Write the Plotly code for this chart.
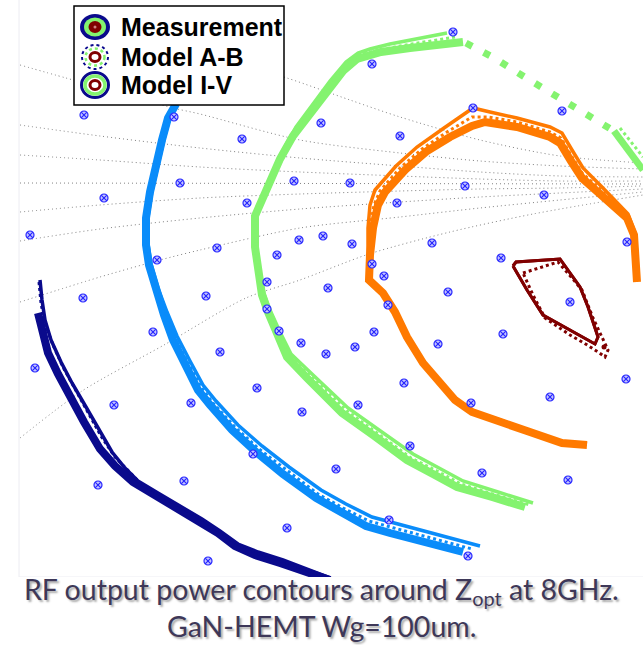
import plotly.graph_objects as go

# ---------------- data (pixel-like chart units) ----------------
# Smith-chart sample impedance points (blue ⊗ markers)
pts_x = [453,372,84,174,473,562,321,242,400,180,294,350,465,544,104,247,397,30,299,323,352,432,217,277,
         157,372,501,627,384,328,448,267,83,206,388,570,267,279,153,374,301,355,326,438,503,220,35,257,
         404,626,114,191,302,358,471,550,410,253,336,482,568,98,184,389,287,468,208]
pts_y = [32,64,115,117,108,111,123,139,136,183,181,183,186,195,198,203,203,235,240,236,244,243,248,255,
         260,264,258,242,276,288,292,282,298,296,305,302,309,331,332,332,343,347,354,344,334,352,368,388,
         383,379,405,403,412,405,403,397,446,454,469,473,480,485,481,520,528,556,561]

# Smith-chart grid arcs (gray dotted)
grid1_x = [75,150,220,287,350,400,480,560,643];        grid1_y = [8,35,58,78,100,117,140,156,163]
grid2_x = [20,66,120,173,200,300,400,480,560,643];     grid2_y = [65,78,93,108,114,140,153,161,166,169]
grid3_x = [20,100,200,300,400,480,560,643];            grid3_y = [125,136,148,158,166,172,176,177]
grid4_x = [20,100,200,300,400,480,560,643];            grid4_y = [155,160,167,172,176,179,181,181]
grid5_x = [20,643];                                    grid5_y = [183,184]
grid6_x = [20,100,200,300,400,480,560,643];            grid6_y = [212,205,198,194,191,189,188,186]
grid7_x = [20,100,200,300,400,480,560,643];            grid7_y = [241,229,218,209,202,197,193,189]
grid8_x = [20,100,160,200,300,400,480,560,643];        grid8_y = [302,277,260,250,228,217,208,200,192]
grid9_x = [20,82,164,246,300,369,450,533,643];         grid9_y = [438,391,345,298,280,254,232,214,195]

# Contour 1 (navy)
navy_meas_x = [38,42,48,58,70,84,100,115,133,155,178,200,218,235,255,280,330]
navy_meas_y = [313,333,353,374,397,422,449,466,482,495,508,521,533,546,555,563,580]
navy_iv_x = [40,42,45,51,61,72,86,99,112,125,138,158,180,202,220,238,258,283,330]
navy_iv_y = [280,300,320,340,362,383,407,430,452,468,481,493,506,519,531,544,552,560,578]
navy_ab_x = [39,41,45,53,63,75,88,101,115,129,141,160,182,204,222,240,260,285,330]
navy_ab_y = [282,303,324,345,367,389,413,436,457,472,484,495,508,521,533,546,554,562,579]

# Contour 2 (light blue)
blue_meas_x = [176,168,162,156,150,146,146,149,156,164,173,185,198,210,232,256,283,316,340,366,390,432,463]
blue_meas_y = [104,118,140,165,192,218,245,265,290,315,340,365,390,405,430,452,474,498,512,526,533,543,552]
blue_iv_x = [178,170,164,158,152,148,148,151,158,167,177,190,203,216,238,262,289,321,346,372,398,440,480]
blue_iv_y = [103,117,139,164,191,217,244,264,288,312,336,361,385,401,425,446,467,490,504,517,524,535,546]
blue_ab_x = [177,169,163,157,151,147,147,150,157,166,175,188,201,213,235,259,286,318,343,369,394,436,472]
blue_ab_y = [104,118,140,165,192,218,245,265,289,313,338,363,387,403,427,449,470,494,508,521,528,539,549]

# Contour 3 (light green)
green_meas_x = [463,442,410,381,367,357,343,327,310,293,280,270,260,255,255,258,262,268,277,287,307,322,342,373,407,433,457,492,525]
green_meas_y = [42,44,48,52,55,59,71,91,114,136,159,181,204,216,247,273,295,312,335,357,378,393,413,435,460,474,487,497,507]
green_iv_x = [447,420,390,370,358,346,330,313,296,283,272,262,256,256,259,264,270,280,291,312,328,348,379,413,439,463,498,533]
green_iv_y = [33,38,44,49,53,62,81,104,127,150,174,198,211,245,271,293,310,332,354,374,389,408,430,454,468,481,492,503]
green_ab_x = [455,430,400,375,362,351,336,319,302,288,276,265,257,256,258,263,269,279,290,311,327,347,377,411,437,461,496,530]
green_ab_y = [37,41,46,51,54,60,77,98,121,143,167,190,210,246,272,294,311,334,356,376,391,411,433,458,471,484,495,505]
green_gap_x = [466,480,496,523,538,550,566,580,593,607,614]
green_gap_y = [43,50,59,76,85,92,101,109,117,127,131]
green_end_x = [614,622,630,643];    green_end_y = [131,142,153,170]
green_end_iv_x = [620,627,635,643]; green_end_iv_y = [128,137,147,157]

# Contour 4 (orange)
orange_meas_x = [587,562,527,500,472,455,435,423,407,395,383,369,370,373,378,385,405,427,450,472,485,517,550,560,571,582,600,627,634,636,637]
orange_meas_y = [445,443,431,421,412,400,378,363,337,312,293,280,255,228,205,192,170,151,137,126,122,127,137,143,161,178,194,218,235,256,282]
orange_iv_x = [587,562,527,500,472,455,435,423,407,395,383,369,368,368,370,375,396,417,444,473,490,517,550,562,572,583,602,628,635,637,638]
orange_iv_y = [444,442,430,420,411,399,377,362,336,311,292,279,255,228,205,190,166,147,128,108,112,118,127,133,150,168,187,214,233,256,280]
orange_ab_x = [587,562,527,500,472,455,435,423,407,395,383,369,369,370,374,380,400,422,447,472,488,517,550,561,571,582,601,627,634,636,637]
orange_ab_y = [444,442,430,420,411,399,377,362,336,311,292,279,255,228,205,191,168,149,132,117,117,122,132,138,155,173,190,216,234,256,281]

# Contour 5 (dark red, around Zopt)
red_meas_x = [513,516,560,570,580,588,598,595,570,543,527,513]
red_meas_y = [266,262,259,273,287,307,337,344,330,315,290,266]
red_ab_x = [523,558,572,582,593,601,608,605,598,584,570,545,533,523]
red_ab_y = [273,262,278,290,318,335,350,357,352,343,335,318,295,273]
red_dot_x = [604]; red_dot_y = [347]

legend_labels = ["Measurement", "Model A-B", "Model I-V"]
caption_1 = "RF output power contours around Z<sub>opt</sub> at 8GHz."
caption_2 = "GaN-HEMT Wg=100um."

# ---------------- styles ----------------
NAVY, BLUE, GREEN, ORANGE, DRED = "#0A0A8C", "#0A8CFA", "#84F36F", "#FF7A00", "#800000"

fig = go.Figure()

grids = [(grid1_x, grid1_y), (grid2_x, grid2_y), (grid3_x, grid3_y), (grid4_x, grid4_y), (grid5_x, grid5_y),
         (grid6_x, grid6_y), (grid7_x, grid7_y), (grid8_x, grid8_y), (grid9_x, grid9_y)]
for gx, gy in grids:
    fig.add_trace(go.Scatter(x=gx, y=gy, mode="lines", hoverinfo="skip", showlegend=False,
                             line=dict(color="#808080", width=1, dash="1px,3px", shape="spline", smoothing=0.8)))

# faint chart frame
fig.add_trace(go.Scatter(x=[19, 19, 643], y=[0, 577, 577], mode="lines", hoverinfo="skip", showlegend=False,
                         line=dict(color="#ececf2", width=1)))

def contour(mx, my, vx, vy, ax, ay, color, wm=8, wv=3.5, wd=3):
    fig.add_trace(go.Scatter(x=mx, y=my, mode="lines", name="Measurement", showlegend=False,
                             line=dict(color=color, width=wm)))
    fig.add_trace(go.Scatter(x=vx, y=vy, mode="lines", name="Model I-V", showlegend=False,
                             line=dict(color=color, width=wv)))
    fig.add_trace(go.Scatter(x=ax, y=ay, mode="lines", name="Model A-B", showlegend=False,
                             line=dict(color=color, width=wd, dash="dot")))

contour(navy_meas_x, navy_meas_y, navy_iv_x, navy_iv_y, navy_ab_x, navy_ab_y, NAVY)
contour(blue_meas_x, blue_meas_y, blue_iv_x, blue_iv_y, blue_ab_x, blue_ab_y, BLUE)
contour(green_meas_x, green_meas_y, green_iv_x, green_iv_y, green_ab_x, green_ab_y, GREEN)
fig.add_trace(go.Scatter(x=green_gap_x, y=green_gap_y, mode="lines", showlegend=False,
                         line=dict(color=GREEN, width=7, dash="7px,13px")))
fig.add_trace(go.Scatter(x=green_end_x, y=green_end_y, mode="lines", showlegend=False,
                         line=dict(color=GREEN, width=7)))
fig.add_trace(go.Scatter(x=green_end_iv_x, y=green_end_iv_y, mode="lines", showlegend=False,
                         line=dict(color=GREEN, width=3, dash="dot")))
contour(orange_meas_x, orange_meas_y, orange_iv_x, orange_iv_y, orange_ab_x, orange_ab_y, ORANGE)
contour(red_meas_x, red_meas_y, red_meas_x, red_meas_y, red_ab_x, red_ab_y, DRED, wm=3, wv=3, wd=3)
fig.add_trace(go.Scatter(x=red_dot_x, y=red_dot_y, mode="markers", showlegend=False,
                         marker=dict(color=DRED, size=5)))

fig.add_trace(go.Scatter(x=pts_x, y=pts_y, mode="markers", showlegend=False,
                         marker=dict(symbol="circle-x", size=8, color="#c4c4ff",
                                     line=dict(color="#2828ff", width=1.2))))

# ---------------- custom legend ----------------
shapes = [dict(type="rect", x0=74, y0=6, x1=284, y1=105, fillcolor="white",
               line=dict(color="black", width=1.5), layer="above")]

def ell(cx, cy, rx, ry, fill=None, line_color=None, lw=0, dash="solid"):
    d = dict(type="circle", x0=cx - rx, x1=cx + rx, y0=cy - ry, y1=cy + ry, layer="above",
             line=dict(width=lw, color=line_color or "rgba(0,0,0,0)", dash=dash))
    if fill:
        d["fillcolor"] = fill
    return d

icon_y = [27, 57, 85]
# Measurement icon
shapes += [ell(95, icon_y[0], 15, 13, fill=NAVY), ell(95, icon_y[0], 11, 9.5, fill=GREEN),
           ell(95, icon_y[0], 6.5, 6, fill=DRED), ell(95, icon_y[0], 1.5, 1.5, fill="#d08080")]
# Model A-B icon
shapes += [ell(95, icon_y[1], 13, 12, line_color=NAVY, lw=2, dash="dot"),
           ell(95, icon_y[1], 9.5, 8.5, line_color=GREEN, lw=2.5, dash="dot"),
           ell(95, icon_y[1], 5, 4.5, line_color=DRED, lw=3)]
# Model I-V icon
shapes += [ell(95, icon_y[2], 13.5, 12.5, line_color=NAVY, lw=3),
           ell(95, icon_y[2], 10, 9, line_color=GREEN, lw=3.5),
           ell(95, icon_y[2], 5, 4.5, line_color=DRED, lw=3)]

annotations = []
for lab, yy in zip(legend_labels, icon_y):
    annotations.append(dict(x=119, y=yy, xref="x", yref="y", text="<b>" + lab + "</b>", showarrow=False,
                            xanchor="left", yanchor="middle",
                            font=dict(family="Liberation Sans, Arial", size=25, color="black")))

cap_font = dict(family="Lato, Open Sans", size=28.5, color="#3E3858",
                shadow="2px 2px 2px rgba(70,70,70,0.45)")
annotations.append(dict(x=0.5, y=(645 - 591) / 645, xref="paper", yref="paper", text=caption_1,
                        showarrow=False, xanchor="center", yanchor="middle", font=cap_font))
annotations.append(dict(x=0.5, y=(645 - 626) / 645, xref="paper", yref="paper", text=caption_2,
                        showarrow=False, xanchor="center", yanchor="middle", font=cap_font))

fig.update_layout(
    width=643, height=645, margin=dict(l=0, r=0, t=0, b=0),
    paper_bgcolor="white", plot_bgcolor="white",
    xaxis=dict(range=[0, 643], visible=False, fixedrange=True),
    yaxis=dict(range=[577, 0], domain=[1 - 577 / 645, 1], visible=False, fixedrange=True),
    shapes=shapes, annotations=annotations, showlegend=False,
)

fig.write_html("out.html", config={"displayModeBar": False},
               post_script="document.body.style.margin='0px';document.body.style.overflow='hidden';")
